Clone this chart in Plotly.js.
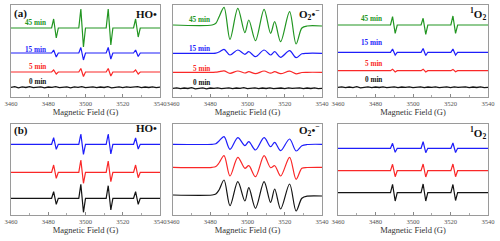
<!DOCTYPE html>
<html><head><meta charset="utf-8">
<script src="https://cdn.plot.ly/plotly-3.0.1.min.js"></script>
<style>html,body{margin:0;padding:0;background:#fff}#chart{width:500px;height:241px}</style>
</head><body><div id="chart"></div>
<script>
// ---------- data ----------
const tickVals = [3460, 3480, 3500, 3520, 3540];
const tickText = ['3460', '3480', '3500', '3520', '3540'];
const timeLabels = ['45 min', '15 min', '5 min', '0 min'];

// DMPO-OH quartet key points
const xHO = [3460, 3481.8, 3482.9, 3484.3, 3485.4, 3496.4, 3497.5, 3498.9, 3500.0, 3511.1, 3512.2, 3513.6, 3514.7, 3525.8, 3526.9, 3528.3, 3529.4, 3540];
const yHOa45 = [69, 69, 78, 59, 69, 69, 88, 50, 69, 69, 88, 52, 69, 69, 78, 60, 69, 69];
const yHOa15 = [44, 44, 47, 40, 44, 44, 49.5, 37, 44, 44, 49.5, 38, 44, 44, 47, 40.5, 44, 44];
const yHOa5  = [25, 25, 27, 23, 25, 25, 28.5, 20.5, 25, 25, 28.5, 21, 25, 25, 27, 23, 25, 25];
const yHOb1  = [70.7, 70.7, 77.3, 65.7, 70.7, 70.7, 81, 60.7, 70.7, 70.7, 81, 61, 70.7, 70.7, 77, 66, 70.7, 70.7];
const yHOb2  = [42.7, 42.7, 50, 36.7, 42.7, 42.7, 55, 31.7, 42.7, 42.7, 54, 33.3, 42.7, 42.7, 50, 37.3, 42.7, 42.7];
const yHOb3  = [16.7, 16.7, 23.3, 10.7, 16.7, 16.7, 30.7, 2.7, 16.7, 16.7, 29.3, 5, 16.7, 16.7, 23.3, 10.7, 16.7, 16.7];

// DMPO-OOH sextet key points
const xO2 = [3460, 3481, 3483, 3484.7, 3487.4, 3490.6, 3494.8, 3498.6, 3500.7, 3504.3, 3508.9, 3512.4, 3514.6, 3517.8, 3522.6, 3526.1, 3529.2, 3532, 3540];
const yO2a45 = [72, 72, 73.7, 80, 89.7, 57.7, 88.7, 64.3, 77, 56.3, 87.7, 63.7, 75.3, 55.3, 85.3, 53, 69, 71, 71];
const yO2a15 = [43.7, 43.7, 43.9, 45, 47.7, 42, 47, 42.7, 45.3, 40.3, 47, 42, 45.3, 39.7, 46.3, 39.3, 43.2, 43.7, 43.7];
const yO2a5  = [24.7, 24.7, 24.8, 25.3, 26.2, 23.7, 26, 24, 25.3, 23.3, 26, 23.8, 25.3, 23.3, 25.8, 23.2, 24.5, 24.7, 24.7];
const yO2b1  = [70.7, 70.7, 71.3, 74, 78.3, 65.7, 77.3, 69.3, 73.3, 65, 77.3, 68.3, 72.7, 64.3, 76, 64, 69.3, 70.5, 70.7];
const yO2b2  = [47.7, 47.7, 48.5, 52, 59.3, 39, 57.7, 46.7, 49.3, 38.3, 59.3, 47.3, 49.3, 39, 57.7, 35.7, 46.7, 47.5, 47.7];
const yO2b3  = [20, 20, 21, 25, 35, 9.3, 33.3, 14, 27.3, 6.7, 33.3, 12.7, 26, 6, 31, 4, 16.7, 18.8, 19];

// TEMP-1O2 triplet key points
const x1O2 = [3460, 3488, 3489.1, 3490.5, 3491.6, 3504.3, 3505.4, 3506.8, 3507.9, 3520.2, 3521.3, 3522.7, 3523.8, 3540];
const y1O2a45 = [72, 72, 80.3, 63.7, 72, 72, 78.7, 62.7, 72, 72, 81, 63.7, 72, 72];
const y1O2a15 = [44.7, 44.7, 48, 42, 44.7, 44.7, 48.5, 41.5, 44.7, 44.7, 48, 42, 44.7, 44.7];
const y1O2a5  = [26.3, 26.3, 27.8, 25, 26.3, 26.3, 27.8, 25, 26.3, 26.3, 27.6, 25.2, 26.3, 26.3];
const y1O2b1  = [66.7, 66.7, 71.7, 62.7, 66.7, 66.7, 73.3, 62.3, 66.7, 66.7, 72, 62.5, 66.7, 66.7];
const y1O2b2  = [44.3, 44.3, 50.7, 38.3, 44.3, 44.3, 51, 38, 44.3, 44.3, 51, 38.3, 44.3, 44.3];
const y1O2b3  = [22.3, 22.3, 30.7, 14, 22.3, 22.3, 31, 14, 22.3, 22.3, 30.5, 14.5, 22.3, 22.3];

// 0 min (noise only) traces
const xNoise = [3460,3462,3464,3466,3468,3470,3472,3474,3476,3478,3480,3482,3484,3486,3488,3490,3492,3494,3496,3498,3500,3502,3504,3506,3508,3510,3512,3514,3516,3518,3520,3522,3524,3526,3528,3530,3532,3534,3536,3538,3540];
const yHO0  = [9.7,10.3,9.2,10.1,9.5,10.4,9.3,9.9,10.2,9.1,10.0,9.6,10.3,9.4,9.8,10.2,9.2,10.1,9.6,10.4,9.3,9.9,10.2,9.4,10.0,9.5,10.3,9.2,9.8,10.1,9.4,10.2,9.6,9.9,10.3,9.3,10.0,9.5,10.2,9.4,9.8];
const yO20  = [8.7,9.2,8.3,9.0,8.5,9.3,8.2,8.9,9.1,8.2,9.0,8.6,9.2,8.4,8.8,9.1,8.3,9.0,8.6,9.3,8.3,8.9,9.1,8.4,9.0,8.5,9.2,8.3,8.8,9.0,8.4,9.1,8.6,8.9,9.2,8.3,9.0,8.5,9.1,8.4,8.7];
const y1O20 = [9.7,10.2,9.3,10.0,9.4,10.3,9.2,9.9,10.1,9.3,10.0,9.5,10.2,9.4,9.8,10.1,9.3,10.0,9.6,10.2,9.4,9.9,10.1,9.3,10.0,9.6,10.2,9.3,9.8,10.1,9.4,10.1,9.6,9.9,10.2,9.4,10.0,9.5,10.1,9.4,9.7];

// ---------- styling ----------
const GREEN = 'rgb(34,150,34)', BLUE = 'rgb(30,30,250)', RED = 'rgb(250,40,40)', BLACK = 'rgb(20,20,20)';
const SERIF = 'Liberation Serif, Times New Roman, serif';

function tr(x, y, color, ax, spline, w) {
  return {x: x, y: y, xaxis: 'x' + ax, yaxis: 'y' + ax, type: 'scatter', mode: 'lines',
    line: {color: color, width: w || 1.2, shape: spline ? 'spline' : 'linear', smoothing: 0.9},
    hoverinfo: 'skip', showlegend: false};
}

const data = [
  tr(xHO, yHOa45, GREEN, ''), tr(xHO, yHOa15, BLUE, ''), tr(xHO, yHOa5, RED, ''), tr(xNoise, yHO0, BLACK, '', false, 1.3),
  tr(xO2, yO2a45, GREEN, '2', true), tr(xO2, yO2a15, BLUE, '2', true), tr(xO2, yO2a5, RED, '2', true), tr(xNoise, yO20, BLACK, '2', false, 1.3),
  tr(x1O2, y1O2a45, GREEN, '3'), tr(x1O2, y1O2a15, BLUE, '3'), tr(x1O2, y1O2a5, RED, '3'), tr(xNoise, y1O20, BLACK, '3', false, 1.3),
  tr(xHO, yHOb1, BLUE, '4'), tr(xHO, yHOb2, RED, '4'), tr(xHO, yHOb3, BLACK, '4'),
  tr(xO2, yO2b1, BLUE, '5', true), tr(xO2, yO2b2, RED, '5', true), tr(xO2, yO2b3, BLACK, '5', true),
  tr(x1O2, y1O2b1, BLUE, '6'), tr(x1O2, y1O2b2, RED, '6'), tr(x1O2, y1O2b3, BLACK, '6')
];

const xd = [[11/500, 160/500], [173/500, 322/500], [338/500, 488/500]];
const yTop = [(241-97)/241, (241-5)/241];
const yBot = [(241-215)/241, (241-124)/241];

function xa(dom, anchor) {
  return {domain: dom, anchor: anchor, range: [3460, 3540], tickmode: 'array', tickvals: tickVals, ticktext: tickText,
    ticks: 'inside', ticklen: 3, tickcolor: '#888', showline: true, linecolor: '#9a9a9a', linewidth: 1, mirror: true,
    showgrid: false, zeroline: false, tickfont: {family: SERIF, size: 6.6, color: '#555'},
    minor: {dtick: 10, ticks: 'inside', ticklen: 2, tickcolor: '#aaa'},
    title: {text: 'Magnetic Field (G)', font: {family: SERIF, size: 8.5, color: '#333'}, standoff: 3}};
}
function ya(dom, anchor, top) {
  return {domain: dom, anchor: anchor, range: [0, top], showticklabels: false, ticks: '', showline: true,
    linecolor: '#9a9a9a', linewidth: 1, mirror: true, showgrid: false, zeroline: false};
}

const colors = [GREEN, BLUE, RED, BLACK];
const annotations = [];
function timeAnn(ax, xs, ys) {
  for (let i = 0; i < 4; i++) {
    annotations.push({xref: 'x' + ax, yref: 'y' + ax, x: xs, y: ys[i], text: '<b>' + timeLabels[i] + '</b>',
      showarrow: false, xanchor: 'right', yanchor: 'middle', font: {family: SERIF, size: 7.2, color: colors[i]}});
  }
}
timeAnn('', 3480, [74, 47, 30, 15]);
timeAnn('2', 3480.8, [77, 48, 28, 14]);
timeAnn('3', 3484.4, [78, 54, 33, 17]);

function pAnn(x, y, text, anchor, size) {
  annotations.push({xref: 'paper', yref: 'paper', x: x, y: y, text: text, showarrow: false, xanchor: anchor,
    yanchor: 'middle', font: {family: SERIF, size: size, color: '#111'}});
}
pAnn(12/500, 1 - 13/241, '<b>(a)</b>', 'left', 11);
pAnn(12/500, 1 - 130/241, '<b>(b)</b>', 'left', 11);
pAnn(159/500, 1 - 14/241, '<b>HO•</b>', 'right', 11);
pAnn(159/500, 1 - 128/241, '<b>HO•</b>', 'right', 11);
pAnn(322/500, 1 - 14/241, '<b>O<sub>2</sub>•<sup>−</sup></b>', 'right', 11);
pAnn(322/500, 1 - 130/241, '<b>O<sub>2</sub>•<sup>−</sup></b>', 'right', 11);
pAnn(488/500, 1 - 14/241, '<b><sup>1</sup>O<sub>2</sub></b>', 'right', 11);
pAnn(488/500, 1 - 133/241, '<b><sup>1</sup>O<sub>2</sub></b>', 'right', 11);

const layout = {
  width: 500, height: 241, margin: {l: 0, r: 0, t: 0, b: 0}, paper_bgcolor: '#fff', plot_bgcolor: '#fff',
  showlegend: false,
  xaxis: xa(xd[0], 'y'), yaxis: ya(yTop, 'x', 92),
  xaxis2: xa(xd[1], 'y2'), yaxis2: ya(yTop, 'x2', 92),
  xaxis3: xa(xd[2], 'y3'), yaxis3: ya(yTop, 'x3', 92),
  xaxis4: xa(xd[0], 'y4'), yaxis4: ya(yBot, 'x4', 91),
  xaxis5: xa(xd[1], 'y5'), yaxis5: ya(yBot, 'x5', 91),
  xaxis6: xa(xd[2], 'y6'), yaxis6: ya(yBot, 'x6', 91),
  annotations: annotations
};
Plotly.newPlot('chart', data, layout, {staticPlot: true, displayModeBar: false});
</script></body></html>
